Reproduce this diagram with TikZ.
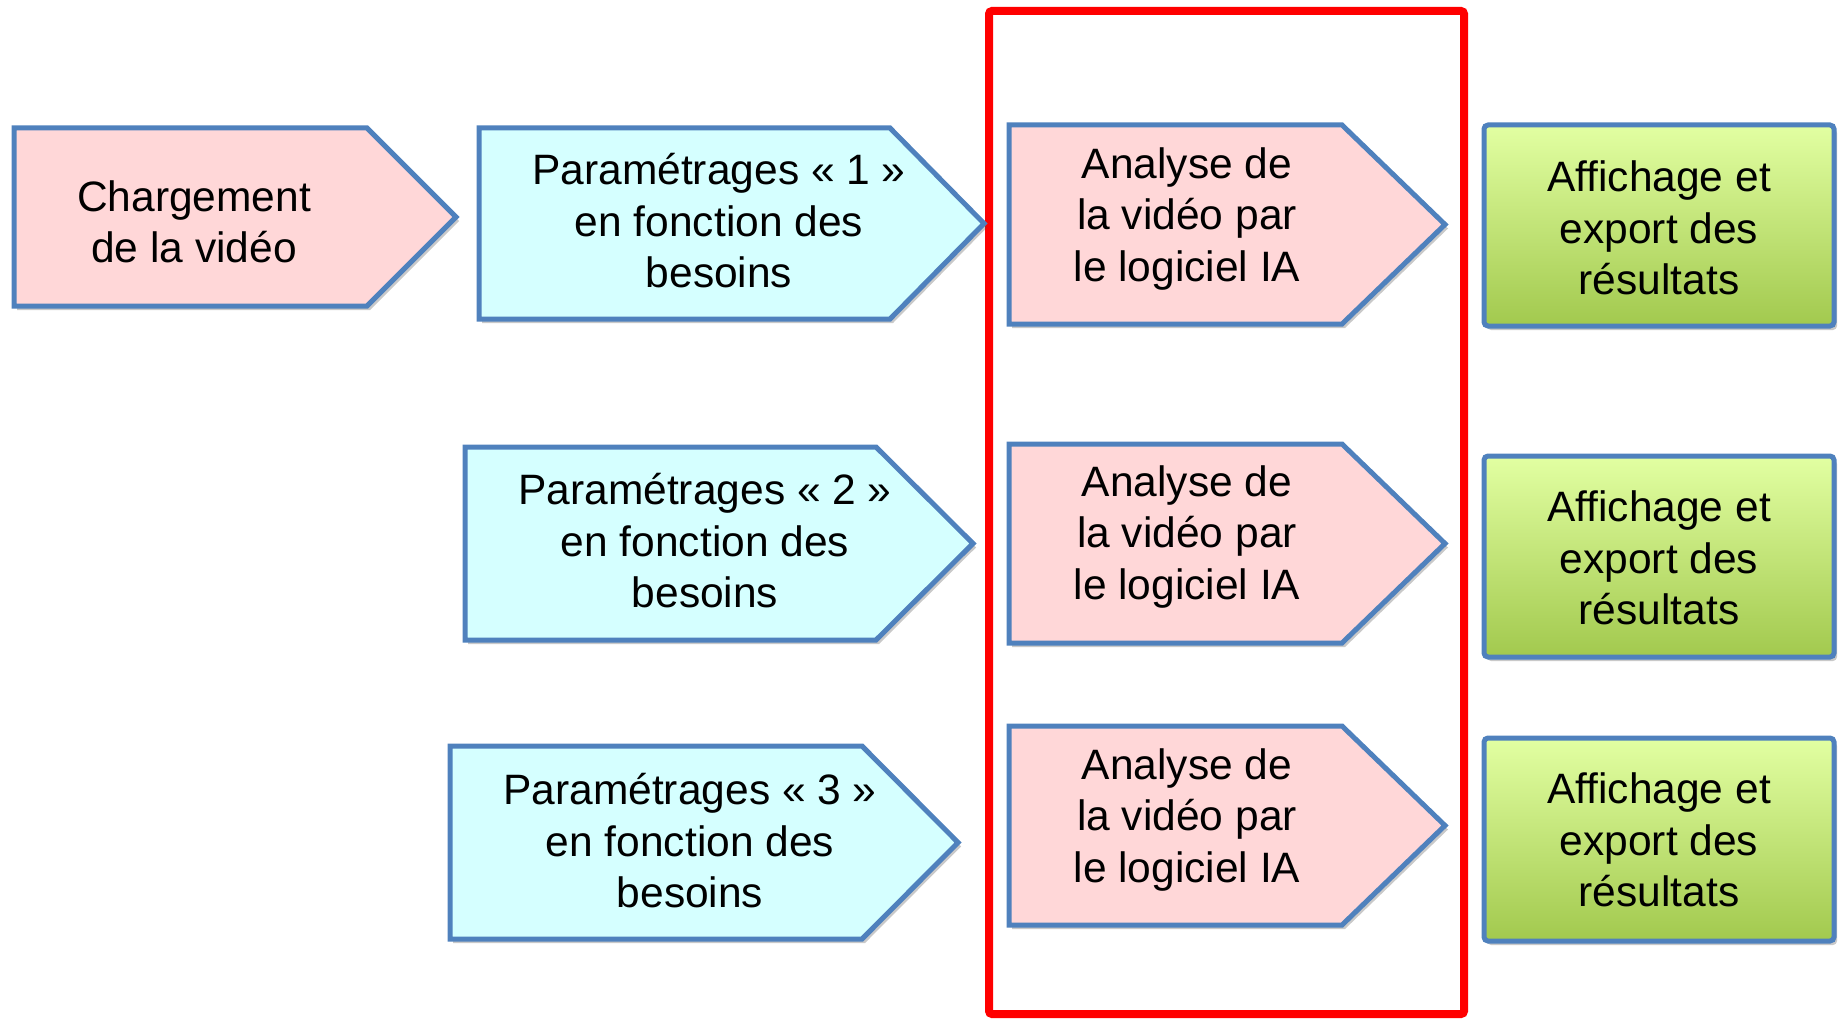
\documentclass[tikz,border=0pt]{standalone}
\usepackage{fontspec}
\setmainfont{Liberation Sans}
\usetikzlibrary{shadows}
\definecolor{bordblue}{HTML}{4F81BD}
\definecolor{pinkfill}{HTML}{FFD7D8}
\definecolor{cyanfill}{HTML}{D5FFFF}
\definecolor{greentop}{HTML}{E2FFA2}
\definecolor{greenbot}{HTML}{A2C94E}
\tikzset{
  boxline/.style={draw=bordblue, line width=5pt, line join=miter,
    drop shadow={shadow xshift=3pt, shadow yshift=-4pt, opacity=0.3, fill=black!70}},
  pinkbox/.style={boxline, fill=pinkfill},
  cyanbox/.style={boxline, fill=cyanfill},
  greenbox/.style={boxline, rounded corners=4pt, top color=greentop, bottom color=greenbot},
  redframe/.style={draw=red, line width=8pt, rounded corners=3pt},
  lbl/.style={align=center, inner sep=0pt, font=\fontsize{42.5}{51.5}\selectfont}
}
% #1 left, #2 top, #3 bottom, #4 point start, #5 tip x, #6 style
\newcommand\pentbox[6]{%
  \path[#6] (#1,#2) -- (#4,#2) -- (#5,{(#2+#3)/2}) -- (#4,#3) -- (#1,#3) -- cycle;}
\begin{document}
\begin{tikzpicture}[x=1pt,y=-1pt]
\useasboundingbox (0,0) rectangle (1843,1019);
% red frame
\draw[redframe] (989,11) rectangle (1464,1014);
% row 1
\pentbox{14}{128}{306}{367}{456}{pinkbox}
\node[lbl] (charg) at (194,222) {Chargement\\de la vidéo};
\pentbox{479}{128}{319}{890}{984}{cyanbox}
\node[lbl] (param1) at (719,221) {Paramétrages «~1~»\\en fonction des\\besoins};
\pentbox{1009}{125}{324}{1342}{1445}{pinkbox}
\node[lbl] (ana1) at (1187,219) {Analyse de\\la vidéo par\\le logiciel IA};
\path[greenbox] (1484,125) rectangle (1834,326);
\node[lbl] (aff1) at (1659,228) {Affichage et\\export des\\résultats};
% row 2
\pentbox{465}{447}{640}{876}{973}{cyanbox}
\node[lbl] (param2) at (705,541) {Paramétrages «~2~»\\en fonction des\\besoins};
\pentbox{1009}{444}{643}{1342}{1445}{pinkbox}
\node[lbl] (ana2) at (1187,537) {Analyse de\\la vidéo par\\le logiciel IA};
\path[greenbox] (1484,456) rectangle (1834,657);
\node[lbl] (aff2) at (1659,558) {Affichage et\\export des\\résultats};
% row 3
\pentbox{450}{746}{939}{862}{958}{cyanbox}
\node[lbl] (param3) at (690,841) {Paramétrages «~3~»\\en fonction des\\besoins};
\pentbox{1009}{726}{925}{1342}{1445}{pinkbox}
\node[lbl] (ana3) at (1187,820) {Analyse de\\la vidéo par\\le logiciel IA};
\path[greenbox] (1484,738) rectangle (1834,941);
\node[lbl] (aff3) at (1659,840) {Affichage et\\export des\\résultats};
\end{tikzpicture}
\end{document}
